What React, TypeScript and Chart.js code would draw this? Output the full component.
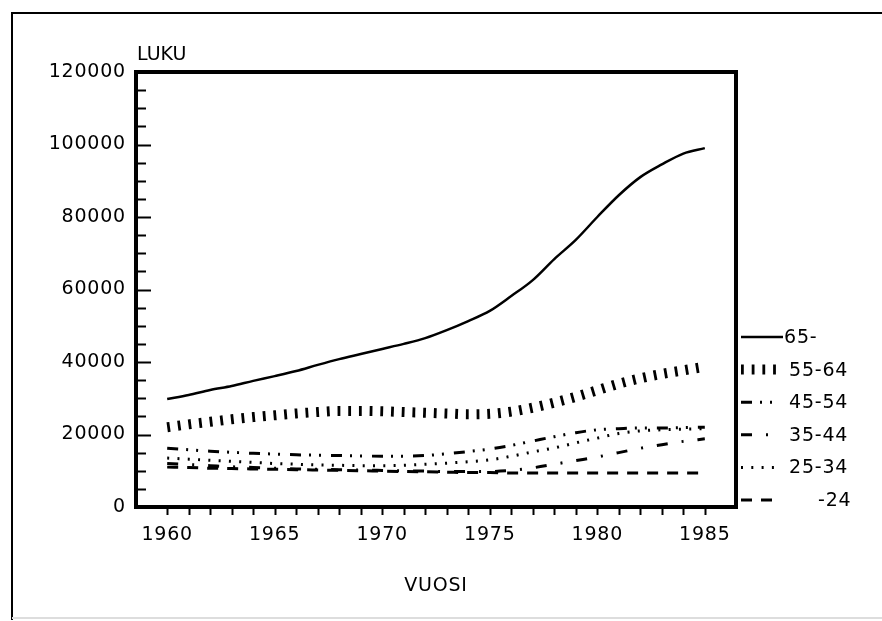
import React, { useEffect, useRef } from "react";
import { Chart, registerables } from "chart.js";

Chart.register(...registerables);

const years = [1960, 1961, 1962, 1963, 1964, 1965, 1966, 1967, 1968, 1969, 1970, 1971, 1972, 1973, 1974, 1975, 1976, 1977, 1978, 1979, 1980, 1981, 1982, 1983, 1984, 1985];
const seriesNames = ["65-", "55-64", "45-54", "35-44", "25-34", "-24"];
const age65 = [29800, 30900, 32300, 33400, 34800, 36100, 37500, 39200, 40800, 42200, 43600, 45000, 46600, 48800, 51300, 54100, 58200, 62600, 68400, 73700, 80000, 86000, 91000, 94500, 97500, 99000];
const age55 = [22000, 22800, 23500, 24200, 24800, 25300, 25800, 26200, 26500, 26500, 26400, 26200, 26000, 25800, 25600, 25700, 26300, 27400, 28800, 30400, 32200, 34000, 35500, 36700, 37700, 38700];
const age45 = [16200, 15800, 15400, 15100, 14800, 14600, 14400, 14300, 14200, 14100, 14000, 14000, 14200, 14700, 15300, 16000, 17000, 18200, 19400, 20500, 21300, 21600, 21800, 21800, 21900, 22000];
const age35 = [12000, 11700, 11400, 11100, 10900, 10700, 10500, 10400, 10300, 10200, 10100, 10000, 9900, 9800, 9800, 9800, 10100, 10800, 11800, 12800, 13800, 15000, 16200, 17200, 18100, 18800];
const age25 = [13500, 13200, 12900, 12600, 12300, 12000, 11800, 11600, 11500, 11400, 11400, 11500, 11800, 12100, 12500, 13000, 14000, 15200, 16300, 17700, 19000, 20300, 21000, 21300, 21500, 21600];
const age24 = [11000, 10900, 10700, 10600, 10500, 10400, 10300, 10200, 10100, 10000, 9900, 9800, 9700, 9600, 9500, 9500, 9400, 9400, 9400, 9400, 9400, 9400, 9400, 9400, 9400, 9400];
const xTickLabels = [1960, 1965, 1970, 1975, 1980, 1985];
const yTickLabels = [0, 20000, 40000, 60000, 80000, 100000, 120000];
const yTitle = "LUKU";
const xTitle = "VUOSI";

const FONT = "'DejaVu Sans', sans-serif";
const SPACING = "0.8px";

const styles = [
  { width: 2.5, dash: [] as number[] },
  { width: 10, dash: [2.8, 7.9] },
  { width: 3, dash: [11, 8, 2, 8, 2, 10] },
  { width: 3, dash: [11, 14, 2, 14] },
  { width: 3, dash: [2, 8.3] },
  { width: 3, dash: [11, 9] },
];

const decorPlugin = {
  id: "decor",
  beforeUpdate(chart: any) {
    chart.ctx.letterSpacing = SPACING;
  },
  beforeDraw(chart: any) {
    const ctx = chart.ctx;
    ctx.letterSpacing = SPACING;
    ctx.save();
    ctx.fillStyle = "#fff";
    ctx.fillRect(0, 0, chart.width, chart.height);
    ctx.strokeStyle = "#000";
    ctx.lineWidth = 2;
    ctx.beginPath();
    ctx.moveTo(12, 620);
    ctx.lineTo(12, 13);
    ctx.lineTo(chart.width, 13);
    ctx.stroke();
    ctx.strokeStyle = "#ddd";
    ctx.beginPath();
    ctx.moveTo(12, 618);
    ctx.lineTo(chart.width, 618);
    ctx.stroke();
    ctx.restore();
  },
  afterDraw(chart: any) {
    const ctx = chart.ctx;
    const { left, right, top, bottom } = chart.chartArea;
    const xs = chart.scales.x;
    const ys = chart.scales.y;
    ctx.save();
    ctx.strokeStyle = "#000";
    ctx.fillStyle = "#000";
    ctx.lineWidth = 2;
    for (let v = 5000; v < 120000; v += 5000) {
      const py = Math.round(ys.getPixelForValue(v)) + 0.5;
      const len = v % 20000 === 0 ? 15 : 10;
      ctx.beginPath();
      ctx.moveTo(left, py);
      ctx.lineTo(left + len, py);
      ctx.stroke();
    }
    for (const yr of years) {
      const px = Math.round(xs.getPixelForValue(yr)) + 0.5;
      ctx.beginPath();
      ctx.moveTo(px, bottom);
      ctx.lineTo(px, bottom + 8);
      ctx.stroke();
    }
    ctx.lineWidth = 4;
    ctx.strokeRect(left, top, right - left, bottom - top);
    ctx.font = `19px ${FONT}`;
    ctx.letterSpacing = "0px";
    ctx.textAlign = "left";
    ctx.textBaseline = "alphabetic";
    ctx.fillText(yTitle, left + 1, top - 12);
    ctx.letterSpacing = SPACING;
    ctx.textBaseline = "middle";
    chart.data.datasets.forEach((ds: any, i: number) => {
      const y = bottom - 7 - (5 - i) * 32.6;
      const st = styles[i];
      ctx.save();
      ctx.lineWidth = st.width;
      ctx.setLineDash(st.dash);
      ctx.lineCap = "butt";
      ctx.beginPath();
      ctx.moveTo(right + 5, y);
      ctx.lineTo(right + (i === 0 ? 47 : 40), y);
      ctx.stroke();
      ctx.restore();
      const label = ds.label as string;
      ctx.textAlign = "left";
      if (label.startsWith("-")) {
        ctx.fillText(label, right + 82, y + 1);
      } else {
        ctx.fillText(label, right + (i === 0 ? 48 : 53), y + 1);
      }
    });
    ctx.restore();
  },
};

export default function App() {
  const ref = useRef<HTMLCanvasElement>(null);
  useEffect(() => {
    if (!ref.current) return;
    const all = [age65, age55, age45, age35, age25, age24];
    const chart = new Chart(ref.current, {
      type: "line",
      data: {
        datasets: all.map((arr, i) => ({
          label: seriesNames[i],
          data: arr.map((v, j) => ({ x: years[j], y: v })),
          borderColor: "#000",
          backgroundColor: "#000",
          borderWidth: styles[i].width,
          borderDash: styles[i].dash,
          borderCapStyle: "butt",
          pointRadius: 0,
          fill: false,
          cubicInterpolationMode: "monotone",
        })),
      },
      options: {
        animation: false,
        responsive: false,
        devicePixelRatio: 1,
        layout: { padding: { left: 0, top: 72, right: 146, bottom: 10 } },
        plugins: { legend: { display: false }, tooltip: { enabled: false } },
        scales: {
          x: {
            type: "linear",
            min: 1958.55,
            max: 1986.45,
            afterBuildTicks: (s: any) => {
              s.ticks = xTickLabels.map((v) => ({ value: v }));
            },
            afterFit: (s: any) => {
              s.height = 104;
            },
            grid: { display: false, drawTicks: false },
            border: { display: false },
            ticks: {
              color: "#000",
              font: { family: FONT, size: 19 },
              padding: 17,
              maxRotation: 0,
              autoSkip: false,
              callback: (v: any) => String(v),
            },
            title: {
              display: true,
              text: xTitle,
              color: "#000",
              font: { family: FONT, size: 19 },
              padding: { top: 0, bottom: 14 },
            },
          },
          y: {
            type: "linear",
            min: 0,
            max: 120000,
            afterBuildTicks: (s: any) => {
              s.ticks = yTickLabels.map((v) => ({ value: v }));
            },
            afterFit: (s: any) => {
              s.width = 136;
            },
            grid: { display: false, drawTicks: false },
            border: { display: false },
            ticks: {
              color: "#000",
              font: { family: FONT, size: 19 },
              padding: 10,
              autoSkip: false,
              callback: (v: any) => String(v),
            },
          },
        },
      },
      plugins: [decorPlugin],
    } as any);
    return () => chart.destroy();
  }, []);
  return (
    <div style={{ position: "absolute", left: 0, top: 0, width: 882, height: 621, background: "#fff" }}>
      <canvas ref={ref} width={882} height={621} />
    </div>
  );
}
